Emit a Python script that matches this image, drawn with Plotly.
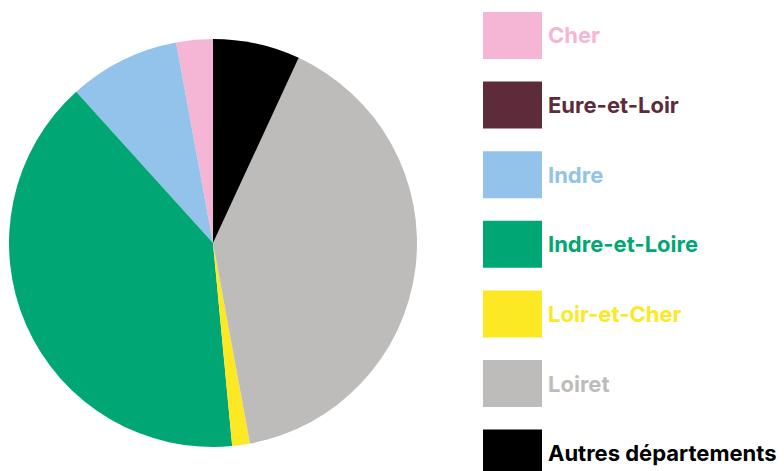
import plotly.graph_objects as go

labels = ["Cher", "Eure-et-Loir", "Indre", "Indre-et-Loire", "Loir-et-Cher", "Loiret", "Autres départements"]
values = [2.9, 0.0, 8.8, 39.8, 1.4, 40.2, 6.9]
colors = ["#F5B6D6", "#5E2B3A", "#93C3EA", "#00A774", "#FDE824", "#BDBCBA", "#000000"]

W, H = 784, 471
cx, cy, r = 213, 243, 204
first_share = 360.0 * values[0] / sum(values)

fig = go.Figure(go.Pie(
    labels=labels, values=values, sort=False, direction="counterclockwise",
    rotation=-first_share,
    marker=dict(colors=colors, line=dict(width=0)),
    textinfo="none", hoverinfo="label+percent", showlegend=False,
    domain=dict(x=[(cx - r) / W, (cx + r) / W], y=[(H - cy - r) / H, (H - cy + r) / H]),
))

shapes, annots = [], []
top0, step, sw_w, sw_h, x0 = 12, 69.6, 59, 47, 483
for i, (lab, col) in enumerate(zip(labels, colors)):
    t = top0 + i * step
    shapes.append(dict(type="rect", xref="paper", yref="paper",
                       x0=x0 / W, x1=(x0 + sw_w) / W,
                       y0=(H - t - sw_h) / H, y1=(H - t) / H,
                       fillcolor=col, line=dict(width=0)))
    annots.append(dict(text="<b>" + lab + "</b>", xref="paper", yref="paper",
                       x=546 / W, y=(H - t - sw_h / 2) / H, xanchor="left", yanchor="middle",
                       showarrow=False, font=dict(family="Inter", size=22, color=col)))

fig.update_layout(width=W, height=H, margin=dict(l=0, r=0, t=0, b=0),
                  paper_bgcolor="white", plot_bgcolor="white",
                  shapes=shapes, annotations=annots)
fig.write_html("out.html", config={"displayModeBar": False},
               post_script="document.body.style.margin='0';document.body.style.overflow='hidden';")
